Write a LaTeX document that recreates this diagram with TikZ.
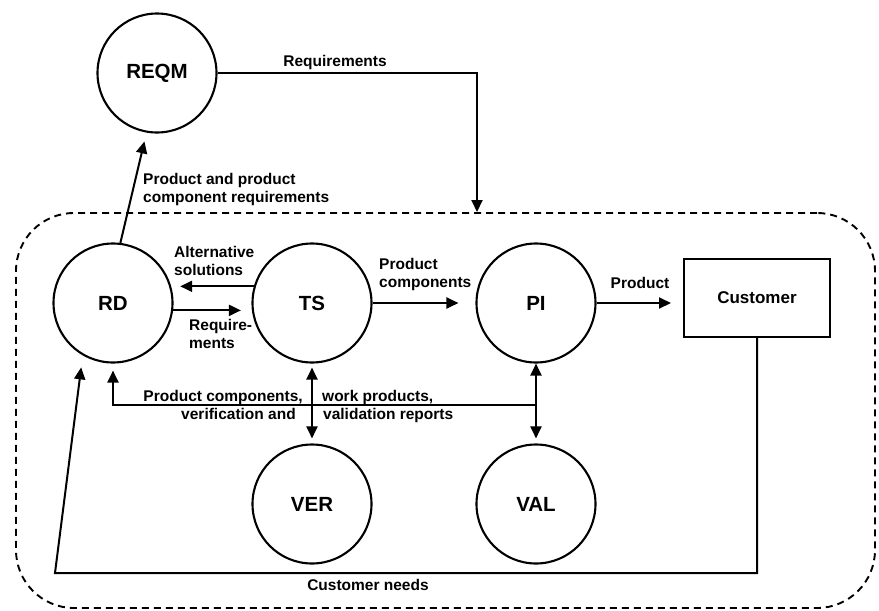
\documentclass[tikz,border=0pt]{standalone}
\usepackage{fontspec}
\setmainfont{Liberation Sans}
\usetikzlibrary{arrows.meta}
\begin{document}
\begin{tikzpicture}[x=1pt,y=-1pt,
  proc/.style={circle,draw,line width=2.1pt,minimum size=119pt,inner sep=0pt,
    font=\fontsize{20.5}{24}\selectfont\bfseries},
  lbl/.style={font=\fontsize{15.5}{18}\selectfont\bfseries,inner sep=0pt,align=left},
  conn/.style={line width=2pt,-{Triangle[length=12pt,width=11pt]}},
  dconn/.style={line width=2pt,{Triangle[length=12pt,width=11pt]}-{Triangle[length=12pt,width=11pt]}}]
\fill[white] (0,0) rectangle (879,611);
\useasboundingbox (0,0) rectangle (879,611);

% boundary
\node[draw,dash pattern=on 7pt off 5pt,line width=1.9pt,rounded corners=58pt,
  minimum width=859pt,minimum height=395pt,inner sep=0pt] (area) at (445.5,410.5) {};

% processes
\node[proc] (reqm) at (157,73) {REQM};
\node[proc] (rd) at (113,303) {RD};
\node[proc] (ts) at (312,303) {TS};
\node[proc] (pi) at (536,303) {PI};
\node[proc] (ver) at (312,504) {VER};
\node[proc] (val) at (536,504) {VAL};
\node[draw,line width=2pt,minimum width=146pt,minimum height=78pt,inner sep=0pt,
  font=\fontsize{17}{20}\selectfont\bfseries] (cust) at (757,298) {Customer};

% REQM -> area
\coordinate (reqin) at (477,212);
\draw[conn] (reqm.east) -| (reqin);
\node[lbl,anchor=center] (lreq) at (335,62) {Requirements};

% RD -> REQM
\draw[conn,shorten >=9pt] (rd.83) -- (reqm.260);
\node[lbl,anchor=west] (lpr) at (143,189) {Product and product\\component requirements};

% TS -> RD
\draw[conn,shorten >=9pt] (ts.164) -- (rd.16);
\node[lbl,anchor=west] (lalt) at (174,261) {Alternative\\solutions};

% RD -> TS
\draw[conn,shorten >=11pt] (rd.353) -- (ts.187);
\node[lbl,anchor=west] (lreq2) at (189,334) {Require-\\ments};

% TS -> PI
\draw[conn,shorten >=17pt] (ts.east) -- (pi.west);
\node[lbl,anchor=west] (lpc) at (379,274) {Product\\components};

% PI -> Customer
\draw[conn,shorten >=12pt] (pi.east) -- (pi.east -| cust.west);
\node[lbl,anchor=center] (lprod) at (640,283) {Product};

% feedback to RD
\coordinate (fb) at (536,405);
\draw[conn,shorten >=7pt] (fb) -| (rd.south);
\node[lbl,anchor=base east] (lf1) at (303,401) {Product components,};
\node[lbl,anchor=base east] (lf2) at (296,419) {verification and};
\node[lbl,anchor=base west] (lf3) at (322,401) {work products,};
\node[lbl,anchor=base west] (lf4) at (323,419) {validation reports};

% TS <-> VER, PI <-> VAL
\draw[dconn,shorten <=4pt,shorten >=5pt] (ts.south) -- (ver.north);
\draw[dconn,shorten >=5pt] (pi.south) -- (val.north);

% customer needs
\coordinate (cn) at (55,573);
\draw[conn,shorten >=12pt] (cust.south) |- (cn) -- (rd.240);
\node[lbl,anchor=center] (lcn) at (368,585) {Customer needs};
\end{tikzpicture}
\end{document}
